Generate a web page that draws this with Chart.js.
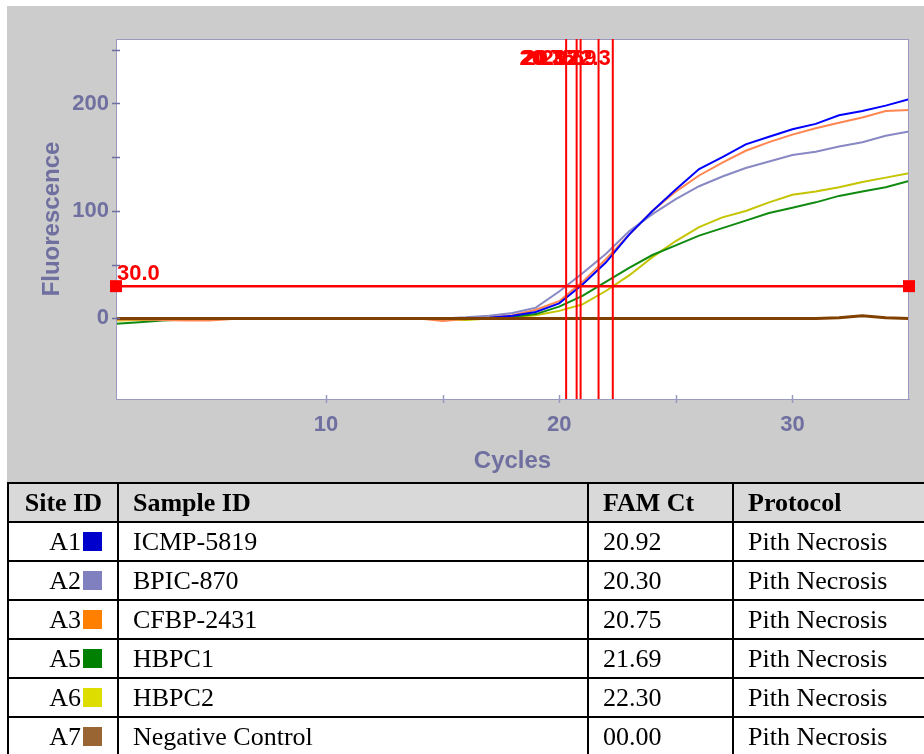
<!DOCTYPE html>
<html>
<head>
<meta charset="utf-8">
<title>FAM amplification</title>
<script src="https://cdn.jsdelivr.net/npm/chart.js@4.4.1/dist/chart.umd.min.js"></script>
<style>
  body {
    margin: 0;
    width: 924px;
    height: 754px;
    overflow: hidden;
    position: relative;
    background: #fff;
  }
  #panel {
    position: absolute;
    left: 7px;
    top: 6px;
    width: 917px;
    height: 477px;
    background: #cccccc;
  }
  #runTable {
    position: absolute;
    left: 7px;
    top: 482px;
    width: 922px;
    table-layout: fixed;
    border-collapse: collapse;
    font-family: "Liberation Serif", "Times New Roman", serif;
    font-size: 26px;
    color: #000;
  }
  #runTable th, #runTable td {
    border: 2px solid #000;
    height: 37px;
    padding: 0 14px;
    text-align: left;
    white-space: nowrap;
  }
  #runTable th {
    background: #d9d9d9;
    font-weight: bold;
  }
  #runTable .site {
    text-align: right;
    padding-right: 15px;
  }
  .swatch {
    display: inline-block;
    width: 19px;
    height: 19px;
    margin-left: 2px;
    vertical-align: -1px;
  }
</style>
</head>
<body>
<div id="panel"><canvas id="myChart" width="917" height="477"></canvas></div>

<table id="runTable">
  <colgroup>
    <col style="width:110px">
    <col style="width:470px">
    <col style="width:145px">
    <col style="width:197px">
  </colgroup>
  <thead>
    <tr><th class="site">Site ID</th><th>Sample ID</th><th>FAM Ct</th><th>Protocol</th></tr>
  </thead>
  <tbody id="runRows"></tbody>
</table>

<script>
// cycle numbers on the x axis
var cycles = [1, 2, 3, 4, 5, 6, 7, 8, 9, 10, 11, 12, 13, 14, 15, 16, 17, 18,
  19, 20, 21, 22, 23, 24, 25, 26, 27, 28, 29, 30, 31, 32, 33, 34, 35];

// FAM fluorescence per cycle, one list per well
var a1 = [0, 0, 0, 0, 0, 0, 0, 0, 0, 0, 0, 0, 0, 0, 0, 0.2, 0.5, 2.5, 6, 14,
  31.5, 52, 78, 100, 120, 139, 150, 162, 169, 176, 181, 189, 193, 198, 204];
var a2 = [0, 0, 0, 0, 0, 0, 0, 0, 0, 0, 0, 0, 0, 0, 0, 1, 2.5, 5, 10, 25,
  42, 60, 81, 97, 111, 123, 132, 140, 146, 152, 155, 160, 164, 170, 174];
var a3 = [-1, -1, -1.5, -2, -2, -0.5, 0, 0, 0, 0, 0, 0, 0, 0, -2.5, -0.5, 0.8, 3, 8, 16,
  34, 55, 78, 100, 118, 133, 145, 156, 164, 171, 177, 182, 187, 193, 194];
var a5 = [-5, -3.5, -2, -1, -0.5, 0, 0, 0, 0, 0, 0, 0, 0, 0, 0, 0, 0.5, 1.5, 4, 11,
  21, 34, 47, 59, 68, 77, 84, 91, 98, 103, 108, 114, 118, 122, 128];
var a6 = [-2, -1.5, -1, -0.5, 0, 0, 0, 0, 0, 0, 0, 0, 0, 0, -1, -1.5, 0, 1, 3, 7,
  13, 25.5, 40, 57, 72, 85, 94, 100, 108, 115, 118, 122, 127, 131, 135];
var a7 = [0, 0, 0, 0, 0, 0, 0, 0, 0, 0, 0, 0, 0, 0, 0, 0, 0, 0, 0, 0,
  0, 0, 0, 0, 0, 0, 0, 0, 0, 0, 0, 0.5, 2.5, 0.5, 0];

// run table
var siteIds = ["A1", "A2", "A3", "A5", "A6", "A7"];
var sampleIds = ["ICMP-5819", "BPIC-870", "CFBP-2431", "HBPC1", "HBPC2", "Negative Control"];
var famCt = ["20.92", "20.30", "20.75", "21.69", "22.30", "00.00"];
var protocols = ["Pith Necrosis", "Pith Necrosis", "Pith Necrosis", "Pith Necrosis", "Pith Necrosis", "Pith Necrosis"];
var swatchColors = ["#0000cc", "#8080c0", "#ff8000", "#008000", "#dddd00", "#996633"];
var lineColors = ["#0000ff", "#8888c4", "#ff8650", "#108a10", "#c4c400", "#804000"];
var wells = [a1, a2, a3, a5, a6, a7];

var threshold = 30.0;
var yLabelTicks = [0, 100, 200];
var yMarkTicks = [0, 50, 100, 150, 200, 250];
var xLabelTicks = [10, 20, 30];
var xMarkTicks = [10, 15, 20, 25, 30];

var axisColor = "#6f6fa0";
var frameColor = "#9a9ac0";
var fontFamily = "'Liberation Sans', Arial, sans-serif";

// fill the table
var rowsEl = document.getElementById("runRows");
siteIds.forEach(function (site, i) {
  var tr = document.createElement("tr");
  tr.innerHTML =
    '<td class="site">' + site + '<span class="swatch" style="background:' + swatchColors[i] + '"></span></td>' +
    "<td>" + sampleIds[i] + "</td>" +
    "<td>" + famCt[i] + "</td>" +
    "<td>" + protocols[i] + "</td>";
  rowsEl.appendChild(tr);
});

// white plot area, frame, ticks that cross the axis, then threshold and Ct markers on top
var plotFrame = {
  id: "plotFrame",
  beforeDraw: function (chart) {
    var a = chart.chartArea;
    var ctx = chart.ctx;
    ctx.save();
    ctx.fillStyle = "#ffffff";
    ctx.fillRect(a.left, a.top, a.right - a.left, a.bottom - a.top);
    ctx.restore();
  },
  afterDraw: function (chart) {
    var a = chart.chartArea;
    var ctx = chart.ctx;
    var xs = chart.scales.x;
    var ys = chart.scales.y;
    ctx.save();
    ctx.strokeStyle = frameColor;
    ctx.lineWidth = 1;
    ctx.strokeRect(a.left + 0.5, a.top + 0.5, a.right - a.left - 1, a.bottom - a.top);
    ctx.strokeStyle = axisColor;
    ctx.lineWidth = 1.5;
    yMarkTicks.forEach(function (v) {
      var y = Math.round(ys.getPixelForValue(v)) + 0.5;
      ctx.beginPath();
      ctx.moveTo(a.left - 4, y);
      ctx.lineTo(a.left + 4, y);
      ctx.stroke();
    });
    ctx.strokeStyle = frameColor;
    xMarkTicks.forEach(function (v) {
      var x = Math.round(xs.getPixelForValue(v)) + 0.5;
      ctx.beginPath();
      ctx.moveTo(x, a.bottom - 4);
      ctx.lineTo(x, a.bottom + 4);
      ctx.stroke();
    });

    var ty = ys.getPixelForValue(threshold);
    ctx.strokeStyle = "#ff0000";
    ctx.fillStyle = "#ff0000";
    ctx.font = "bold 22px " + fontFamily;

    famCt.forEach(function (ct) {
      var v = parseFloat(ct);
      if (!v) return;
      var x = xs.getPixelForValue(v);
      ctx.lineWidth = 2;
      ctx.beginPath();
      ctx.moveTo(x, a.top);
      ctx.lineTo(x, a.bottom);
      ctx.stroke();
      ctx.textAlign = "right";
      ctx.textBaseline = "alphabetic";
      ctx.fillText(String(v), x - 2, a.top + 26);
    });

    ctx.lineWidth = 2.5;
    ctx.beginPath();
    ctx.moveTo(a.left, ty);
    ctx.lineTo(a.right, ty);
    ctx.stroke();
    ctx.fillRect(a.left - 6, ty - 6, 12, 12);
    ctx.fillRect(a.right - 6, ty - 6, 12, 12);
    ctx.textAlign = "left";
    ctx.textBaseline = "alphabetic";
    ctx.fillText(threshold.toFixed(1), a.left + 1, ty - 6);
    ctx.restore();
  }
};

var datasets = wells.map(function (vals, i) {
  return {
    label: sampleIds[i],
    data: cycles.map(function (c, j) { return { x: c, y: vals[j] }; }),
    borderColor: lineColors[i],
    backgroundColor: "transparent",
    borderWidth: i === 5 ? 3 : 2,
    pointRadius: 0,
    tension: 0,
    order: i === 5 ? -1 : i
  };
});

const ctx = document.getElementById("myChart");
const myChart = new Chart(ctx, {
  type: "line",
  data: { datasets: datasets },
  plugins: [plotFrame],
  options: {
    responsive: false,
    animation: false,
    layout: { padding: { top: 33, right: 15, left: 0, bottom: 0 } },
    plugins: {
      legend: { display: false },
      tooltip: { enabled: false }
    },
    scales: {
      x: {
        type: "linear",
        min: 1,
        max: 35,
        afterFit: function (scale) { scale.height = 84; },
        afterBuildTicks: function (scale) {
          scale.ticks = xLabelTicks.map(function (v) { return { value: v }; });
        },
        grid: { display: false, drawTicks: false },
        border: { display: true, color: frameColor, width: 1 },
        ticks: {
          color: axisColor,
          padding: 13,
          autoSkip: false,
          maxRotation: 0,
          font: { family: fontFamily, size: 22, weight: "bold" }
        },
        title: {
          display: true,
          text: "Cycles",
          color: axisColor,
          padding: { top: 4, bottom: 7 },
          font: { family: fontFamily, size: 24, weight: "bold" }
        }
      },
      y: {
        min: -75,
        max: 260,
        afterFit: function (scale) { scale.width = 109; },
        afterBuildTicks: function (scale) {
          scale.ticks = yLabelTicks.map(function (v) { return { value: v }; });
        },
        grid: { display: false, drawTicks: false },
        border: { display: true, color: frameColor, width: 1 },
        ticks: {
          color: axisColor,
          padding: 7,
          font: { family: fontFamily, size: 22, weight: "bold" }
        },
        title: {
          display: true,
          text: "Fluorescence",
          color: axisColor,
          padding: { top: 31, bottom: 4 },
          font: { family: fontFamily, size: 24, weight: "bold" }
        }
      }
    }
  }
});
</script>
</body>
</html>
